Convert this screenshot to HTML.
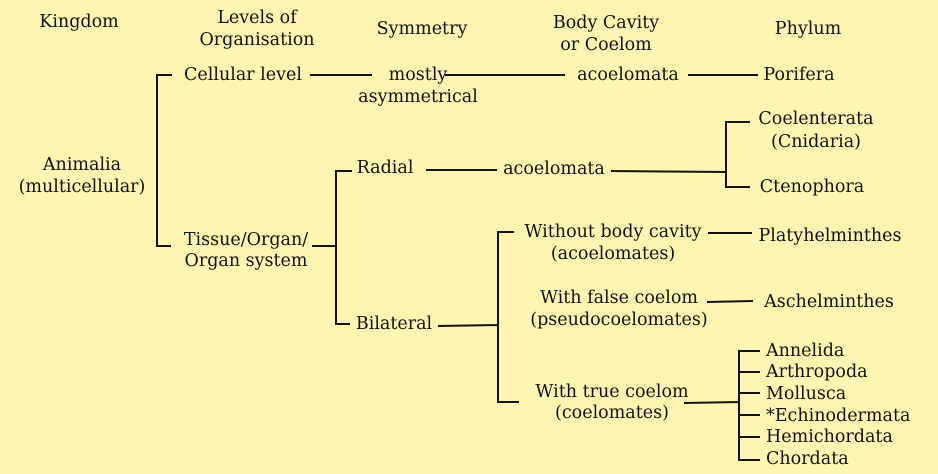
<!DOCTYPE html>
<html><head><style>
html,body{margin:0;padding:0;background:#fdf5b0;}
svg{display:block}
text{font-family:"DejaVu Serif","Liberation Serif",serif;font-size:17.5px;fill:#111;dominant-baseline:central}
.m{text-anchor:middle}
</style></head><body>
<svg width="938" height="474" viewBox="0 0 938 474">
<rect width="938" height="474" fill="#fdf5b0"/>
<g transform="translate(0,1)">
<text class="m" x="79" y="21">Kingdom</text>
<text class="m" x="257" y="17">Levels of</text>
<text class="m" x="257" y="39">Organisation</text>
<text class="m" x="422" y="28">Symmetry</text>
<text class="m" x="606" y="22">Body Cavity</text>
<text class="m" x="606" y="44">or Coelom</text>
<text class="m" x="808" y="28">Phylum</text>

<text class="m" x="82" y="164">Animalia</text>
<text class="m" x="82" y="186">(multicellular)</text>
<text class="m" x="243" y="74">Cellular level</text>
<text class="m" x="246" y="239">Tissue/Organ/</text>
<text class="m" x="246" y="260">Organ system</text>
<text class="m" x="418" y="74">mostly</text>
<text class="m" x="418" y="96">asymmetrical</text>
<text class="m" x="628" y="74">acoelomata</text>
<text class="m" x="799" y="74">Porifera</text>
<text class="m" x="385" y="167">Radial</text>
<text class="m" x="554" y="168">acoelomata</text>
<text class="m" x="816" y="118">Coelenterata</text>
<text class="m" x="816" y="141">(Cnidaria)</text>
<text class="m" x="812" y="186">Ctenophora</text>
<text class="m" x="394" y="323">Bilateral</text>
<text class="m" x="613" y="231">Without body cavity</text>
<text class="m" x="613" y="253">(acoelomates)</text>
<text class="m" x="830" y="235">Platyhelminthes</text>
<text class="m" x="619" y="297">With false coelom</text>
<text class="m" x="619" y="319">(pseudocoelomates)</text>
<text class="m" x="829" y="301">Aschelminthes</text>
<text class="m" x="612" y="391">With true coelom</text>
<text class="m" x="612" y="412">(coelomates)</text>
<text x="766" y="350">Annelida</text>
<text x="766" y="371">Arthropoda</text>
<text x="766" y="393">Mollusca</text>
<text x="766" y="415">*Echinodermata</text>
<text x="766" y="436">Hemichordata</text>
<text x="766" y="458">Chordata</text>
</g>
<g stroke="#111" stroke-width="2" fill="none">
<path d="M172 75H157V246H171"/>
<path d="M310 75H372M445 75H565M688 75H758"/>
<path d="M312 246H336M352 171H336V324H350"/>
<path d="M426 170L497 170M611 171L726 172"/>
<path d="M750 122H726V187H750"/>
<path d="M438 326L498 325M514 232H498V402H519"/>
<path d="M708 233H752M707 302L753 301"/>
<path d="M684 403L739 402M760 351H739V460H760M739 372H760M739 393H760M739 415H760M739 437H760"/>
</g>
</svg>
</body></html>
